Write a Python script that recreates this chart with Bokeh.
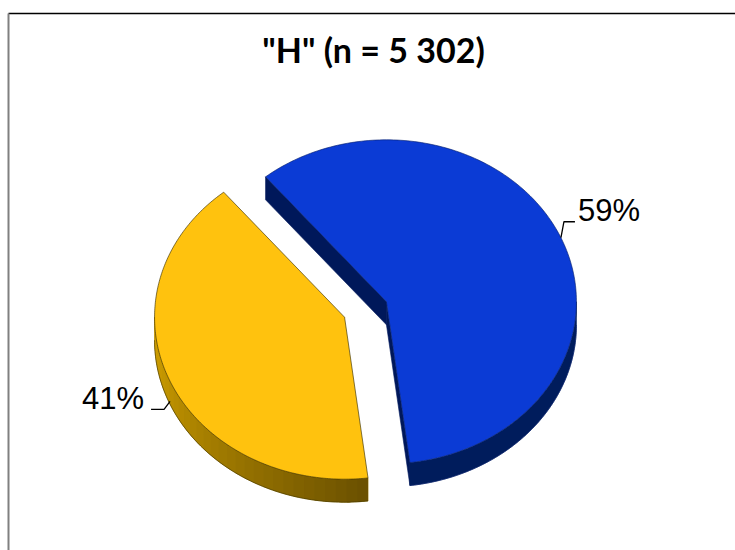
import numpy as np
from bokeh.plotting import figure
from bokeh.models import Range1d, Label
from bokeh.embed import file_html
from bokeh.resources import INLINE

# --- data -------------------------------------------------------------
title_text = '"H" (n = 5 302)'
shares = [41, 59]                 # percent, drawn counter-clockwise from START_DEG
share_labels = ["41%", "59%"]

# --- styling / layout -------------------------------------------------
W, H = 735, 550
CX, CY = 365.0, 309.0             # pie centre (pixel-like data units, y grows downwards)
RX, RY = 190.0, 162.0             # tilted pie: ellipse radii
DEPTH = 23.0                      # thickness of the 3-D disc
EXPLODE = 0.12                    # fraction of radius each slice is pulled out
START_DEG = 129.5
top_colors = ["#FFC20E", "#0B3BD5"]
rim_from = ["#D6A400", "#001C5C"]
rim_to = ["#6A5000", "#001C5C"]
face_colors = ["#8A6A00", "#00185A"]
edge_colors = ["#3A3000", "#0A2270"]
TEXT_SHIFT = 0.38                 # em offset compensating the svg baseline placement


def mix(c1, c2, t):
    a = [int(c1[i:i + 2], 16) for i in (1, 3, 5)]
    b = [int(c2[i:i + 2], 16) for i in (1, 3, 5)]
    return "#%02x%02x%02x" % tuple(int(round(a[k] + (b[k] - a[k]) * t)) for k in range(3))


def ell(cx, cy, deg):
    r = np.radians(deg)
    return cx + RX * np.cos(r), cy - RY * np.sin(r)


p = figure(width=W, height=H, x_range=Range1d(0, W), y_range=Range1d(H, 0),
           x_axis_location=None, y_axis_location=None, toolbar_location=None,
           output_backend="svg", min_border=0, outline_line_color=None,
           background_fill_color="white", border_fill_color="white")
p.xgrid.visible = False
p.ygrid.visible = False

# chart frame (top and left edges are visible inside the window)
p.line([8, W + 5], [13, 13], line_color="#000000", line_width=1.5)
p.line([8, 8], [13, H + 5], line_color="#808080", line_width=2)

total = float(sum(shares))
spans = []
a = START_DEG
for v in shares:
    b = a + v / total * 360.0
    spans.append((a, b))
    a = b

centres = []
for (a0, a1) in spans:
    mid = np.radians((a0 + a1) / 2)
    centres.append((CX + EXPLODE * RX * np.cos(mid), CY - EXPLODE * RY * np.sin(mid)))

# side walls first: outer rim on the front half and the cut faces facing the viewer
for i, ((a0, a1), (cx, cy)) in enumerate(zip(spans, centres)):
    for ang, normal in ((a0, a0 - 90), (a1, a1 + 90)):
        if np.sin(np.radians(normal)) < 0:
            px, py = ell(cx, cy, ang)
            p.patch([cx, px, px, cx], [cy, py, py + DEPTH, cy + DEPTH],
                    fill_color=face_colors[i], line_color=face_colors[i], line_width=0.6)
    for k in range(-1, 3):
        lo, hi = max(a0, 180 + 360 * k), min(a1, 360 + 360 * k)
        if hi <= lo:
            continue
        t = np.linspace(lo, hi, 120)
        xs, ys = ell(cx, cy, t)
        base = mix(rim_from[i], rim_to[i], 0.5)
        p.patch(np.concatenate([xs, xs[::-1]]), np.concatenate([ys, ys[::-1] + DEPTH]),
                fill_color=base, line_color=base, line_width=0.6)
        if rim_from[i] != rim_to[i]:
            nseg = 30
            edges = np.linspace(lo, hi, nseg + 1)
            for s in range(nseg):
                tt = np.linspace(edges[s], edges[s + 1] + (hi - lo) / nseg * 0.3, 6)
                tt = np.clip(tt, lo, hi)
                sx, sy = ell(cx, cy, tt)
                col = mix(rim_from[i], rim_to[i], (s + 0.5) / nseg)
                p.patch(np.concatenate([sx, sx[::-1]]), np.concatenate([sy, sy[::-1] + DEPTH]),
                        fill_color=col, line_color=None)
        p.line(xs, ys + DEPTH, line_color=edge_colors[i], line_width=0.8, line_alpha=0.7)

# top faces
for i, ((a0, a1), (cx, cy)) in enumerate(zip(spans, centres)):
    t = np.linspace(a0, a1, 200)
    xs, ys = ell(cx, cy, t)
    p.patch(np.concatenate([[cx], xs]), np.concatenate([[cy], ys]),
            fill_color=top_colors[i], line_color=edge_colors[i],
            line_width=0.8, line_alpha=0.8)

# percentage labels with short leader lines
LABEL_PX = 31
for i, ((a0, a1), (cx, cy)) in enumerate(zip(spans, centres)):
    mid = (a0 + a1) / 2
    ax, ay = ell(cx, cy, mid)
    if np.sin(np.radians(mid)) < 0:
        ay += DEPTH * 0.87
    right = np.cos(np.radians(mid)) > 0
    if right:
        kx, ky = ax + 3, ay - 16
        ex = kx + 11
        align = "left"
        tx = ex + 3
    else:
        kx, ky = ax - 6, ay + 8
        ex = kx - 13
        align = "right"
        tx = ex - 7
    p.line([ax, kx, ex], [ay, ky, ky], line_color="#000000", line_width=1.3)
    p.add_layout(Label(x=tx, y=ky + 1 - TEXT_SHIFT * LABEL_PX, text=share_labels[i],
                       text_align=align, text_baseline="alphabetic",
                       text_font="Liberation Sans", text_font_size=f"{LABEL_PX}px",
                       text_color="#000000"))

TITLE_PX = 34
p.add_layout(Label(x=373, y=62 - TEXT_SHIFT * TITLE_PX, text=title_text, text_align="center",
                   text_baseline="alphabetic", text_font="Lato",
                   text_font_style="bold", text_font_size=f"{TITLE_PX}px",
                   text_color="#000000"))

open("out.html", "w").write(file_html(p, INLINE))
